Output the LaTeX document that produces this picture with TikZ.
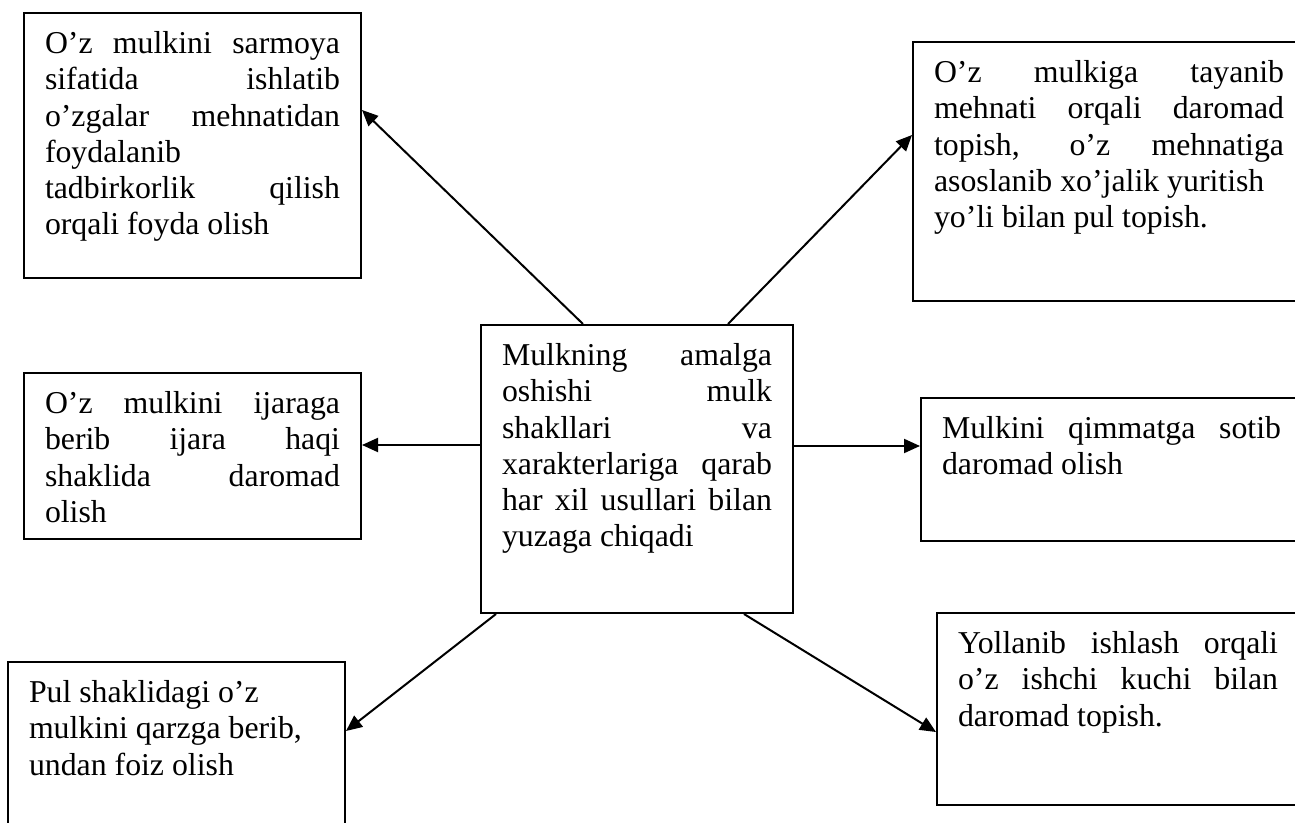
\documentclass[tikz,border=0pt]{standalone}
\usepackage{fontspec}
\setmainfont{Liberation Serif}
\usetikzlibrary{calc, arrows.meta}
\newlength{\pxu}
\setlength{\pxu}{0.5pt}
\newcommand{\mulktext}[3]{\parbox[c][#2\pxu][t]{#1\pxu}{\strut #3}}
\tikzset{
    mulkbox/.style={draw, line width=1pt, anchor=north west,
        inner xsep=21\pxu, inner ysep=15\pxu,
        font=\fontsize{15.9}{18.15}\selectfont},
    mulkarrow/.style={line width=1pt, -{Triangle[length=8pt, width=7pt]}},
}
\begin{document}
\begin{tikzpicture}[x=0.5pt, y=-0.5pt]
        \useasboundingbox (0, 0) rectangle (1295, 823);
        \node[mulkbox] (mid) at (480, 324) {\mulktext{270}{258}{Mulkning
            amalga\linebreak oshishi mulk\linebreak shakllari va\linebreak
            xarakterlariga qarab\linebreak har xil usullari bilan\linebreak
            yuzaga chiqadi}};

        \node[mulkbox] (A) at (23, 12) {\mulktext{295}{235}{O’z mulkini
            sarmoya\linebreak sifatida ishlatib\linebreak o’zgalar
            mehnatidan\linebreak foydalanib\newline tadbirkorlik
            qilish\linebreak orqali foyda olish}};
        \node[mulkbox] (B) at (912, 41) {\mulktext{350}{229}{O’z mulkiga
            tayanib\linebreak mehnati orqali daromad\linebreak topish, o’z
            mehnatiga\linebreak asoslanib xo’jalik yuritish\newline yo’li
            bilan pul topish.}};
        \node[mulkbox] (D) at (23, 372) {\mulktext{295}{136}{O’z mulkini
            ijaraga\linebreak berib ijara haqi\linebreak shaklida
            daromad\linebreak olish}};
        \node[mulkbox] (E) at (920, 397) {\mulktext{339}{113}{Mulkini
            qimmatga sotib\linebreak daromad olish}};
        \node[mulkbox] (F) at (7, 661) {\mulktext{295}{210}{Pul shaklidagi
            o’z\newline mulkini qarzga berib,\newline undan foiz olish}};
        \node[mulkbox] (G) at (936, 612) {\mulktext{320}{162}{Yollanib ishlash
            orqali\linebreak o’z ishchi kuchi bilan\linebreak daromad
            topish.}};

        % arrows out of the middle box
        \draw[mulkarrow] ($(mid.north west)+(103, 0)$) -- ($(A.north east)+(0, 98)$);
        \draw[mulkarrow] ($(mid.north west)+(248, 0)$) -- ($(B.north west)+(0, 94)$);
        \draw[mulkarrow] ($(mid.north west)+(0, 121)$) -- ($(D.north east)+(0, 73)$);
        \draw[mulkarrow] ($(mid.north east)+(0, 122)$) -- ($(E.north west)+(0, 49)$);
        \draw[mulkarrow] ($(mid.south west)+(16, 0)$) -- ($(F.north east)+(0, 70)$);
        \draw[mulkarrow] ($(mid.south west)+(264, 0)$) -- ($(G.north west)+(0, 120)$);
    \end{tikzpicture}
\end{document}
